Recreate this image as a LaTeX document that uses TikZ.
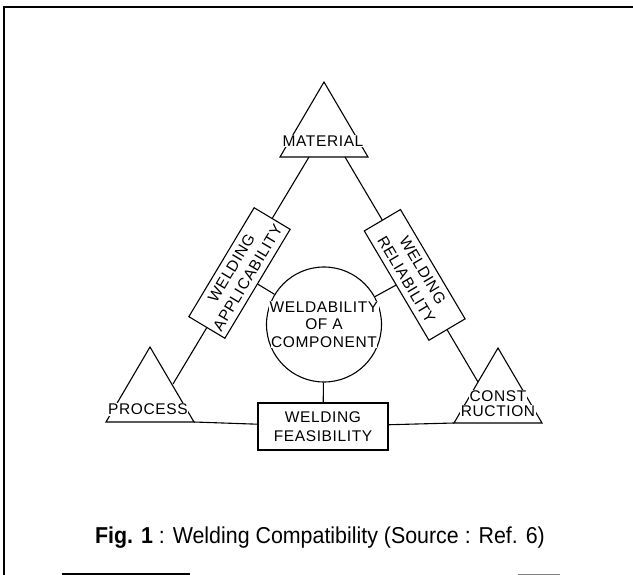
\documentclass[tikz,border=0pt]{standalone}
\usepackage{fontspec}
\setmainfont{Liberation Sans}
\newfontfamily\diafont[LetterSpace=4]{Liberation Sans}
\newfontfamily\capfont[FakeStretch=0.93]{Liberation Sans}
\newcommand\wb[1]{\colorbox{white}{#1}}
\begin{document}
\begin{tikzpicture}[x=1pt,y=-1pt,line width=1.1pt,
    font=\diafont\fontsize{15.5}{19}\selectfont,
    box/.style={draw,fill=white,align=center,inner sep=2pt},
    lbl/.style={fill=white,inner sep=0.6pt}]
  \useasboundingbox (0,0) rectangle (633,575);
  \setlength\fboxsep{0.6pt}
  % frame
  \draw[line width=1.8pt] (4,575)--(4,7)--(633,7);
  \draw[line width=1.5pt] (62,574)--(190,574);
  \draw[gray,line width=1pt] (518,574)--(560,574);
  % triangles
  \foreach \n/\x/\y in {mat/324/82,pro/150/347,con/498/348}
    \draw (\x,\y) -- ++(-44,75) coordinate (\n L) -- ++(88,0) coordinate (\n R) -- cycle;
  \node[lbl] (matt) at (323,141) {MATERIAL};
  \node[lbl] (prot) at (148,409.5) {PROCESS};
  \node[align=center,inner sep=0pt] (cont) at (498,404) {\wb{CONST}\\[-4pt]\wb{RUCTION}};
  \coordinate (matA) at (309,157);
  \coordinate (matB) at (345,157);
  \coordinate (proA) at (173,384);
  \coordinate (conA) at (478,382);
  % centre
  \node[draw,circle,minimum size=115pt,inner sep=0pt] (cmp) at (324,324.5) {};
  \node[align=center,inner sep=0pt] (cmpt) at (cmp) {\wb{WELDABILITY}\\[-1.5pt]\wb{OF A}\\[-1.5pt]\wb{COMPONENT}};
  \node[box,minimum width=130pt,minimum height=47pt] (fea) at (323,426.5) {WELDING\\FEASIBILITY};
  % sides
  \draw (matA) -- node[box,sloped,pos=0.511,minimum width=127pt,minimum height=42pt] (app) {WELDING\\APPLICABILITY} (proA);
  \draw (matB) -- node[box,sloped,pos=0.524,minimum width=127pt,minimum height=42pt] (rel) {WELDING\\RELIABILITY} (conA);
  \draw (app) -- (cmp);
  \draw (rel) -- (cmp);
  \draw (cmp) -- (fea);
  \draw (proR) -- (fea);
  \draw (fea) -- (conL);
  % caption
  \node[font=\capfont\fontsize{23}{26}\selectfont,anchor=base] (cap) at (320,543) {\textbf{Fig. 1} : Welding Compatibility (Source : Ref. 6)};
\end{tikzpicture}
\end{document}
